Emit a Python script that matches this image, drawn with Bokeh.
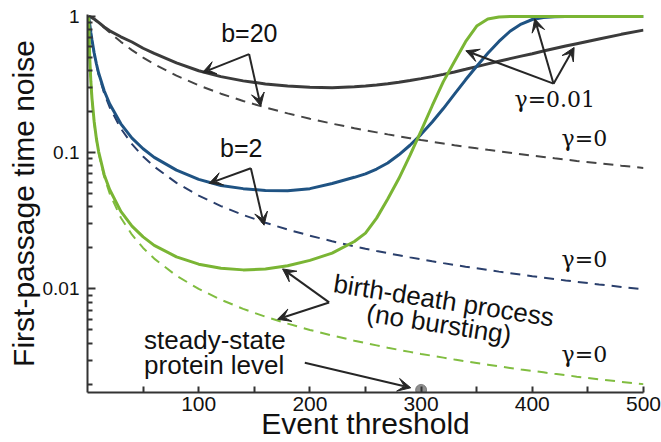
import math
from bokeh.plotting import figure
from bokeh.models import Arrow, VeeHead, Label, FixedTicker, CustomJSTickFormatter, Range1d
from bokeh.embed import file_html
from bokeh.resources import INLINE

# ---------------- data ----------------
threshold = [1, 2, 3, 4, 6, 8, 10, 15, 20, 30, 40, 50, 60, 80, 100, 120, 140, 160,
             180, 200, 220, 240, 250, 260, 270, 280, 290, 300, 310, 320, 330, 340,
             350, 360, 370, 380, 390, 400, 410, 420, 430, 440, 460, 480, 500]

# gamma = 0.01 (solid)
b20_decay = [1.0, 0.997, 0.99, 0.981, 0.958, 0.932, 0.905, 0.838, 0.785, 0.71, 0.65,
             0.585, 0.537, 0.457, 0.400, 0.362, 0.337, 0.320, 0.309, 0.302, 0.300,
             0.305, 0.309, 0.314, 0.321, 0.329, 0.339, 0.350, 0.362, 0.376, 0.392,
             0.410, 0.429, 0.449, 0.470, 0.491, 0.512, 0.533, 0.558, 0.582, 0.607,
             0.632, 0.684, 0.740, 0.795]
b2_decay = [1.0, 0.88, 0.765, 0.675, 0.54, 0.45, 0.385, 0.285, 0.228, 0.163, 0.128,
            0.107, 0.0925, 0.0745, 0.0637, 0.0575, 0.0545, 0.0528, 0.0526, 0.0545,
            0.0594, 0.066, 0.070, 0.0759, 0.0841, 0.0966, 0.1135, 0.1365, 0.168,
            0.211, 0.269, 0.343, 0.431, 0.537, 0.656, 0.78, 0.881, 0.951, 0.984,
            0.995, 1.0, 1.0, 1.0, 1.0, 1.0]
bd_decay = [1.0, 0.5, 0.335, 0.252, 0.169, 0.127, 0.102, 0.069, 0.0535, 0.0371, 0.0289,
            0.0241, 0.0209, 0.0172, 0.0152, 0.0142, 0.0138, 0.0140, 0.0148, 0.0162,
            0.0183, 0.0223, 0.0257, 0.0331, 0.0457, 0.0646, 0.0955, 0.1445, 0.2213,
            0.3327, 0.4677, 0.6531, 0.851, 0.959, 0.993, 1.0, 1.0, 1.0, 1.0, 1.0,
            1.0, 1.0, 1.0, 1.0, 1.0]

# gamma = 0 (dashed)
b20_nodecay = [1.0, 0.9959, 0.9887, 0.9792, 0.9556, 0.9286, 0.9, 0.8286, 0.7625, 0.652,
               0.5667, 0.5, 0.4469, 0.368, 0.3125, 0.2714, 0.2398, 0.2148, 0.1945,
               0.1777, 0.1635, 0.1515, 0.1461, 0.1411, 0.1364, 0.132, 0.1279, 0.124,
               0.1204, 0.117, 0.1137, 0.1106, 0.1077, 0.105, 0.1024, 0.0999, 0.0975,
               0.0952, 0.0931, 0.091, 0.089, 0.0871, 0.0836, 0.0803, 0.0773]
b2_nodecay = [1.0, 0.875, 0.76, 0.6667, 0.5313, 0.44, 0.375, 0.2734, 0.2149, 0.1504,
              0.1156, 0.0939, 0.0791, 0.0601, 0.04844, 0.04058, 0.03491, 0.03064,
              0.02729, 0.02461, 0.0224, 0.02056, 0.01975, 0.019, 0.0183, 0.01766,
              0.01705, 0.01649, 0.01596, 0.01547, 0.01501, 0.01457, 0.01416, 0.01377,
              0.0134, 0.01305, 0.01272, 0.0124, 0.0121, 0.01181, 0.01154, 0.01128,
              0.01079, 0.01035, 0.00994]
bd_nodecay = [1.0, 0.5, 0.3333, 0.25, 0.1667, 0.125, 0.1, 0.0667, 0.05, 0.0333, 0.025,
              0.02, 0.0167, 0.0125, 0.01, 0.00833, 0.00714, 0.00625, 0.00556, 0.005,
              0.00455, 0.00417, 0.004, 0.00385, 0.0037, 0.00357, 0.00345, 0.00333,
              0.00323, 0.00313, 0.00303, 0.00294, 0.00286, 0.00278, 0.0027, 0.00263,
              0.00256, 0.0025, 0.00244, 0.00238, 0.00233, 0.00227, 0.00217, 0.00208,
              0.002]

steady_state_level = [300]

x_major_ticks = [100, 200, 300, 400, 500]
x_minor_ticks = [50, 150, 250, 350, 450]
y_major_ticks = [0.01, 0.1, 1]
y_minor_ticks = [0.002, 0.003, 0.004, 0.005, 0.006, 0.007, 0.008, 0.009,
                 0.02, 0.03, 0.04, 0.05, 0.06, 0.07, 0.08, 0.09,
                 0.2, 0.3, 0.4, 0.5, 0.6, 0.7, 0.8, 0.9]

# ---------------- figure ----------------
Y_MIN, Y_MAX = 0.001736, 1.035
p = figure(width=661, height=442, y_axis_type="log",
           x_range=Range1d(0, 500), y_range=Range1d(Y_MIN, Y_MAX),
           output_backend="svg", toolbar_location=None,
           min_border_left=87, min_border_right=18, min_border_top=14,
           min_border_bottom=48)
p.outline_line_color = None
p.grid.visible = False
p.background_fill_color = "white"
p.border_fill_color = "white"

GRAY, BLUE, GREEN = "#3b3b3b", "#1f5383", "#7ab534"
GRAY_D, BLUE_D, GREEN_D = "#454545", "#2a3f6c", "#80bd40"
DASH = "10 7"

p.line(threshold, b20_nodecay, line_color=GRAY_D, line_width=2, line_dash=DASH)
p.line(threshold, b2_nodecay, line_color=BLUE_D, line_width=2, line_dash=DASH)
p.line(threshold, bd_nodecay, line_color=GREEN_D, line_width=2, line_dash=DASH)
p.line(threshold, b20_decay, line_color=GRAY, line_width=3)
p.line(threshold, b2_decay, line_color=BLUE, line_width=3)
p.line(threshold, bd_decay, line_color=GREEN, line_width=3)

p.scatter(steady_state_level, [Y_MIN * 1.045], size=11, color="#6a6a6a", alpha=0.75)

# axes
for ax in (p.xaxis[0], p.yaxis[0]):
    ax.axis_line_width = 2
    ax.axis_line_color = "#333333"
    ax.major_tick_line_color = "#333333"
    ax.minor_tick_line_color = "#333333"
    ax.major_tick_line_width = 2
    ax.minor_tick_line_width = 2
    ax.major_tick_out = 0
    ax.minor_tick_out = 0
    ax.major_label_text_font = "Liberation Sans"
    ax.major_label_text_color = "#111111"
    ax.axis_label_text_font = "Liberation Sans"
    ax.axis_label_text_font_size = "30px"
    ax.axis_label_text_font_style = "normal"
    ax.axis_label_text_color = "#111111"

p.xaxis.ticker = FixedTicker(ticks=x_major_ticks, minor_ticks=x_minor_ticks)
p.xaxis.major_tick_in = 6
p.xaxis.minor_tick_in = 6
p.xaxis.major_label_standoff = 4
p.xaxis.major_label_text_font_size = "21px"
p.xaxis.axis_label = "Event threshold"
p.xaxis.axis_label_standoff = -7

p.yaxis.ticker = FixedTicker(ticks=y_major_ticks, minor_ticks=y_minor_ticks)
p.yaxis.formatter = CustomJSTickFormatter(code="return tick.toString();")
p.yaxis.major_tick_in = 8
p.yaxis.minor_tick_in = 5
p.yaxis.major_label_standoff = 8
p.yaxis.major_label_text_font_size = "19px"
p.yaxis.axis_label = "First-passage time noise"
p.yaxis.axis_label_standoff = 0

# annotations
SANS = "Liberation Sans"
SERIF = "DejaVu Serif"
INK = "#111111"

def label(text, x, y, align="center", font=SANS, size=25, angle=0.0):
    shift = (0.36 if font == SERIF else 0.38) * size
    p.add_layout(Label(x=x, y=y, text=text, text_align=align,
                       text_baseline="alphabetic", text_font=font,
                       text_font_size=f"{size}px", text_color=INK, angle=angle,
                       y_offset=shift))

label("b=20", 145.5, 0.6457)
label("b=2", 138.3, 0.0928)
label("γ=0.01", 420.2, 0.2136, font=SERIF, size=22)
label("γ=0", 446.8, 0.1113, font=SERIF, size=22)
label("γ=0", 446.8, 0.01444, font=SERIF, size=22)
label("γ=0", 446.8, 0.002868, font=SERIF, size=22)
label("steady-state", 50.9, 0.003595, align="left", size=26)
label("protein level", 50.9, 0.00235, align="left", size=26)
label("birth-death process", 320.4, 0.00697, size=26, angle=-0.155)
label("(no bursting)", 316.2, 0.004695, size=26, angle=-0.155)

ARROW = "#262626"

def arrow(x0, y0, x1, y1):
    p.add_layout(Arrow(end=VeeHead(size=13, fill_color=ARROW, line_color=ARROW),
                       x_start=x0, y_start=y0, x_end=x1, y_end=y1,
                       line_color=ARROW, line_width=2))

arrow(145.3, 0.530, 103.4, 0.3877)
arrow(145.3, 0.530, 155.8, 0.2199)
arrow(146.9, 0.0769, 109.4, 0.0596)
arrow(146.9, 0.0769, 158.8, 0.02937)
arrow(419.1, 0.3214, 340.2, 0.5606)
arrow(419.1, 0.3214, 402.2, 0.9616)
arrow(419.1, 0.3214, 437.6, 0.593)
arrow(217.3, 0.00796, 175.4, 0.01403)
arrow(217.3, 0.00796, 170.9, 0.00599)
arrow(195.4, 0.002868, 290.7, 0.00188)

open("out.html", "w").write(file_html(p, INLINE))
